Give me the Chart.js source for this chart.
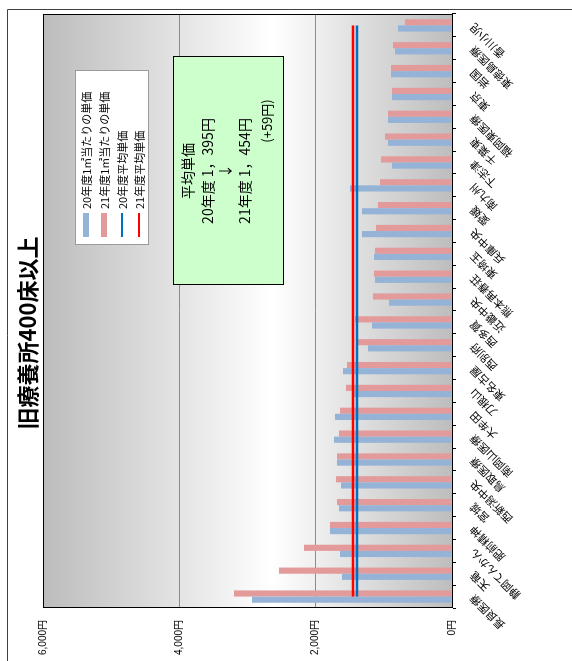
<!DOCTYPE html>
<html>
<head>
<meta charset="utf-8">
<script src="https://cdn.jsdelivr.net/npm/chart.js@4.4.1/dist/chart.umd.min.js"></script>
<style>
  html, body { margin: 0; padding: 0; background: #fff; width: 572px; height: 661px; overflow: hidden; }
  /* the chart is laid out landscape and turned a quarter turn to stand upright */
  #wrap { position: absolute; left: 0; top: 0; width: 661px; height: 572px;
          transform-origin: 0 0; transform: translate(0, 661px) rotate(-90deg); }
</style>
</head>
<body>
<div id="wrap"><canvas id="c" width="661" height="572"></canvas></div>
<script>
// hospitals (former national sanatoria with 400 beds or more)
const categories = [
  '長良医療', '天竜', '静岡てんかん', '肥前精神', '宮城', '西新潟中央', '鳥取医療',
  '南岡山医療', '大牟田', '刀根山', '東名古屋', '西別府', '西多賀', '近畿中央',
  '熊本再春荘', '東埼玉', '兵庫中央', '愛媛', '南九州', '下志津', '千葉東',
  '福岡東医療', '東京', '岩国', '東徳島医療', '香川小児'
];
// unit price per m² (yen)
const price20 = [
  2934, 1614, 1643, 1790, 1658, 1628, 1687, 1731, 1716, 1467, 1599, 1232, 1174,
  924, 1130, 1144, 1320, 1320, 1496, 880, 939, 939, 880, 895, 836, 792
];
const price21 = [
  3198, 2538, 2171, 1790, 1687, 1702, 1687, 1658, 1643, 1555, 1540, 1379, 1423,
  1159, 1144, 1130, 1115, 1086, 1056, 1041, 983, 939, 880, 895, 865, 689
];
// average unit prices
const avg20 = 1395;
const avg21 = 1454;
const valueTicks = [0, 2000, 4000, 6000];

const CJK = '"Noto Sans CJK JP", "Noto Sans", sans-serif';
const LAT = '"Liberation Sans", "Noto Sans CJK JP", sans-serif';

const COL20 = '#95b3d7';
const COL21 = '#e39a9b';
const LINE20 = '#0070c0';
const LINE21 = '#ff0000';

function yen(v) { return v.toLocaleString('en-US') + '円'; }
function yenWide(v) {
  const th = Math.floor(v / 1000), rest = String(v % 1000).padStart(3, '0');
  return th + '，' + rest + '円';
}

const decor = {
  id: 'decor',
  beforeDraw(chart) {
    const { ctx, chartArea: a } = chart;
    ctx.save();
    ctx.fillStyle = '#fff';
    ctx.fillRect(0, 0, chart.width, chart.height);
    // outer frame
    ctx.strokeStyle = '#404040';
    ctx.lineWidth = 1;
    ctx.beginPath();
    ctx.moveTo(0, 7.5); ctx.lineTo(651.5, 7.5); ctx.lineTo(651.5, chart.height);
    ctx.stroke();
    // plot background shading
    const g = ctx.createLinearGradient(0, a.top, 0, a.bottom);
    g.addColorStop(0, '#bcbcbc');
    g.addColorStop(0.56, '#ffffff');
    g.addColorStop(1, '#bdbdbd');
    ctx.fillStyle = g;
    ctx.fillRect(a.left, a.top, a.right - a.left, a.bottom - a.top);
    ctx.restore();
  },
  afterDraw(chart) {
    const { ctx, chartArea: a } = chart;
    ctx.save();
    // plot frame
    ctx.strokeStyle = '#000';
    ctx.lineWidth = 1;
    ctx.strokeRect(Math.round(a.left) + 0.5, Math.round(a.top) + 0.5,
                   Math.round(a.right - a.left) - 1, Math.round(a.bottom - a.top));

    // title
    ctx.fillStyle = '#000';
    ctx.font = 'bold 22px ' + CJK;
    ctx.textAlign = 'center';
    ctx.textBaseline = 'middle';
    ctx.fillText('旧療養所400床以上', 328, 28);

    // legend
    ctx.fillStyle = '#fff';
    ctx.fillRect(416, 75, 174, 73);
    ctx.strokeStyle = '#9a9a9a';
    ctx.strokeRect(416.5, 75.5, 174, 73);
    const ds = chart.data.datasets;
    const rows = [
      { d: ds[2], kind: 'box', v: 86 },
      { d: ds[3], kind: 'box', v: 104 },
      { d: ds[0], kind: 'line', v: 122 },
      { d: ds[1], kind: 'line', v: 139 }
    ];
    ctx.font = '11px ' + CJK;
    ctx.textAlign = 'left';
    ctx.textBaseline = 'middle';
    rows.forEach(r => {
      if (r.kind === 'box') {
        ctx.fillStyle = r.d.backgroundColor;
        ctx.fillRect(424, r.v - 3, 24, 6);
      } else {
        ctx.strokeStyle = r.d.borderColor;
        ctx.lineWidth = 2;
        ctx.beginPath();
        ctx.moveTo(424, r.v); ctx.lineTo(448, r.v);
        ctx.stroke();
      }
      ctx.fillStyle = '#000';
      ctx.fillText(r.d.label, 452, r.v + 0.5);
    });

    // note box with averages
    ctx.fillStyle = '#ccffcc';
    ctx.fillRect(376, 173, 228, 110);
    ctx.strokeStyle = '#000';
    ctx.lineWidth = 1;
    ctx.strokeRect(376.5, 173.5, 228, 110);
    ctx.fillStyle = '#000';
    ctx.font = '14px ' + CJK;
    ctx.textAlign = 'center';
    ctx.textBaseline = 'middle';
    ctx.fillText('平均単価', 490, 188);
    ctx.fillText('20年度 ' + yenWide(avg20), 490, 208);
    ctx.fillText('↓', 490, 225);
    ctx.fillText('21年度 ' + yenWide(avg21), 490, 245);
    ctx.font = '13px ' + CJK;
    ctx.fillText('(+' + (avg21 - avg20) + '円)', 540, 267);
    ctx.restore();
  }
};

new Chart(document.getElementById('c'), {
  type: 'bar',
  data: {
    labels: categories,
    datasets: [
      { type: 'line', label: '20年度平均単価', data: categories.map(() => avg20),
        borderColor: LINE20, borderWidth: 2.5, pointRadius: 0, fill: false, order: 0 },
      { type: 'line', label: '21年度平均単価', data: categories.map(() => avg21),
        borderColor: LINE21, borderWidth: 2.5, pointRadius: 0, fill: false, order: 0 },
      { label: '20年度1㎡当たりの単価', data: price20, backgroundColor: COL20,
        categoryPercentage: 0.54, barPercentage: 1.0, order: 1 },
      { label: '21年度1㎡当たりの単価', data: price21, backgroundColor: COL21,
        categoryPercentage: 0.54, barPercentage: 1.0, order: 1 }
    ]
  },
  options: {
    responsive: false,
    animation: false,
    devicePixelRatio: 1,
    layout: { padding: { left: 0, top: 43, right: 14, bottom: 0 } },
    plugins: { legend: { display: false }, tooltip: { enabled: false }, title: { display: false } },
    scales: {
      x: {
        grid: { display: true, drawOnChartArea: false, drawTicks: true, tickLength: 4, color: '#000', offset: true },
        border: { display: true, color: '#000', width: 1 },
        ticks: { autoSkip: false, minRotation: 45, maxRotation: 45, padding: 11, color: '#000',
                 font: { size: 11, family: CJK } },
        afterFit(s) { s.height = 120; }
      },
      y: {
        min: 0, max: 6000,
        afterBuildTicks(s) { s.ticks = valueTicks.map(v => ({ value: v })); },
        grid: { color: '#8c8c8c', drawTicks: false },
        border: { display: true, color: '#000', width: 1 },
        ticks: { padding: 12, color: '#000', font: { size: 10, family: LAT }, callback: v => yen(v) },
        afterFit(s) { s.width = 53; }
      }
    }
  },
  plugins: [decor]
});
</script>
</body>
</html>
